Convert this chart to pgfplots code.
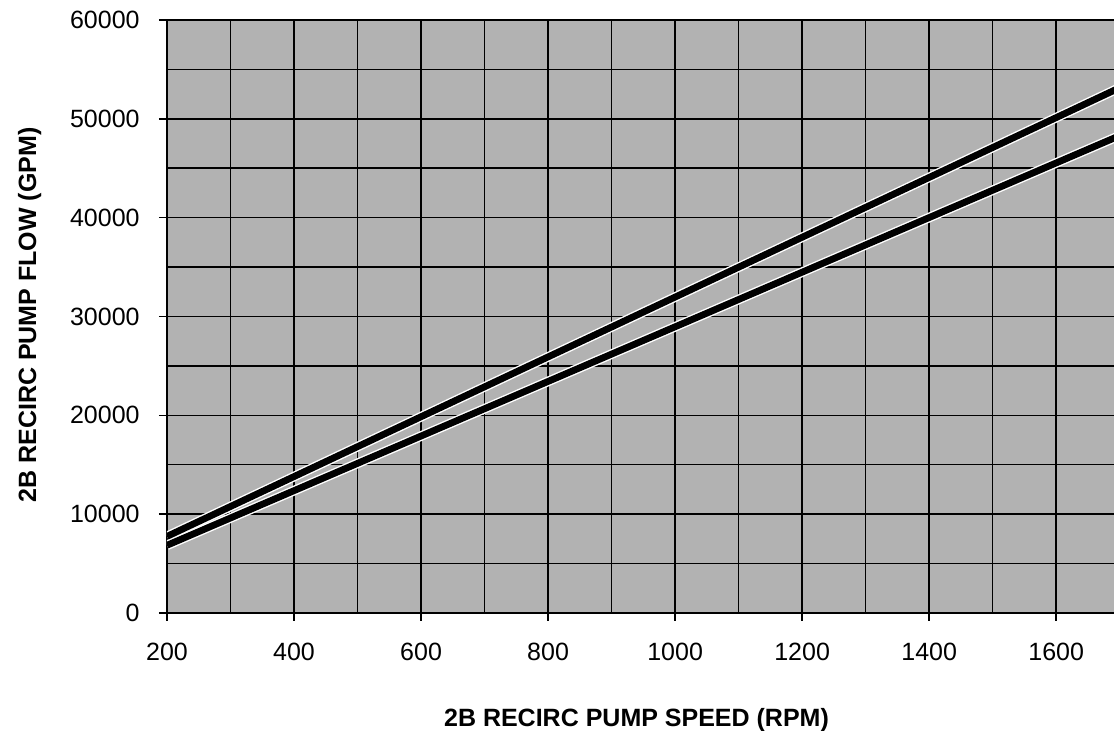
\documentclass[border=0pt]{standalone}
\usepackage{pgfplots}
\pgfplotsset{compat=1.18}
\usepackage{fontspec}
\setmainfont{Liberation Sans}
\definecolor{bg}{RGB}{178,178,178}
\begin{document}
\begin{tikzpicture}
\path[use as bounding box] (-83.5pt,-59pt) rectangle (473.5pt,306.5pt);
\begin{axis}[
  at={(0,0)}, anchor=south west,
  scale only axis, width=473.5pt, height=296.5pt,
  xmin=200, xmax=1691, ymin=0, ymax=60000,
  axis x line=box, axis y line=left,
  axis line style={-, line width=1pt, black},
  xtick={200,400,...,1600}, ytick={0,10000,...,60000},
  minor xtick={300,500,...,1700}, minor ytick={5000,15000,...,55000},
  xtick pos=bottom,
  grid=both,
  major grid style={black, line width=0.75pt},
  minor grid style={black, line width=0.75pt},
  tick align=outside, major tick length=4pt, minor tick length=0pt,
  tick style={black, line width=0.75pt},
  axis background/.style={fill=bg},
  scaled ticks=false,
  /pgf/number format/assume math mode=true,
  /pgf/number format/set thousands separator={},
  tick label style={font=\fontsize{12.5}{15}\selectfont, inner sep=0pt},
  xticklabel shift=11pt, yticklabel shift=9.5pt,
  xlabel={2B RECIRC PUMP SPEED (RPM)},
  ylabel={2B RECIRC PUMP FLOW (GPM)},
  label style={font=\fontsize{12.5}{15}\selectfont\bfseries},
  xlabel style={at={(axis description cs:0.4958,-0.1906)}, anchor=base},
  ylabel style={at={(axis description cs:-0.1383,0.5025)}, anchor=base},
  clip=true,
]
\addplot[white, line width=4.8pt] coordinates {(200,7750) (1700,53150)};
\addplot[white, line width=4.8pt] coordinates {(200,6850) (1700,48300)};
\addplot[black, line width=3.4pt] coordinates {(200,7750) (1700,53150)};
\addplot[black, line width=3.4pt] coordinates {(200,6850) (1700,48300)};
\end{axis}
\end{tikzpicture}
\end{document}
